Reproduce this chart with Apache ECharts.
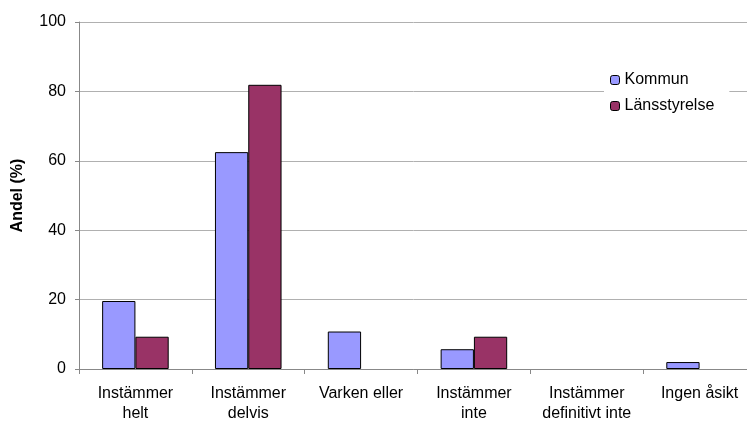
<!DOCTYPE html>
<html>
<head>
<meta charset="utf-8">
<script src="https://cdn.jsdelivr.net/npm/echarts@6/dist/echarts.min.js"></script>
<style>
  html, body { margin: 0; padding: 0; background: #fff; }
  #chart { width: 747px; height: 421px; }
</style>
</head>
<body>
<div id="chart"></div>
<script>
// Survey answers, share of respondents per group
const categories = ['Instämmer\nhelt', 'Instämmer\ndelvis', 'Varken eller', 'Instämmer\ninte', 'Instämmer\ndefinitivt inte', 'Ingen åsikt'];
const kommun = [19.6, 62.5, 10.8, 5.7, 0, 2.0];
const lansstyrelse = [9.3, 81.9, 0, 9.3, 0, 0];
const yTicks = [0, 20, 40, 60, 80, 100];

const chart = echarts.init(document.getElementById('chart'));
const font = 'Liberation Sans, Arial, sans-serif';

// zero-height bars get no outline so they leave no mark on the baseline
const asBars = arr => arr.map(v => v === 0 ? { value: v, itemStyle: { borderWidth: 0, opacity: 0 } } : v);

chart.setOption({
  animation: false,
  textStyle: { fontFamily: font },
  grid: { left: 79, right: -9, top: 22, bottom: 52, containLabel: false, outerBoundsMode: 'none' },
  legend: {
    orient: 'vertical',
    left: 604,
    top: 68,
    itemWidth: 9,
    itemHeight: 9,
    itemGap: 10,
    itemTextGap: 4,
    backgroundColor: '#fff',
    padding: [4, 15, 3, 6],
    textStyle: { fontFamily: font, fontSize: 16, color: '#000' },
    data: [
      { name: 'Kommun', itemStyle: { borderColor: '#000', borderWidth: 1 } },
      { name: 'Länsstyrelse', itemStyle: { borderColor: '#000', borderWidth: 1 } }
    ]
  },
  xAxis: {
    type: 'category',
    data: categories,
    axisLine: { lineStyle: { color: '#888', width: 1 } },
    axisTick: { show: true, length: 5, lineStyle: { color: '#888' } },
    axisLabel: { color: '#000', fontSize: 16, fontFamily: font, lineHeight: 20, margin: 15, interval: 0 }
  },
  yAxis: {
    type: 'value',
    min: yTicks[0],
    max: yTicks[yTicks.length - 1],
    interval: 20,
    name: 'Andel (%)',
    nameLocation: 'middle',
    nameGap: 53,
    nameTextStyle: { fontWeight: 'bold', fontSize: 16, color: '#000', fontFamily: font },
    axisLine: { show: true, lineStyle: { color: '#888', width: 1 } },
    axisTick: { show: true, length: 4, lineStyle: { color: '#888' } },
    axisLabel: { color: '#000', fontSize: 16, fontFamily: font, margin: 13 },
    splitLine: { lineStyle: { color: '#b0b0b0', width: 1 } }
  },
  series: [
    {
      name: 'Kommun',
      type: 'bar',
      data: asBars(kommun),
      barGap: '0%',
      barCategoryGap: '41%',
      itemStyle: { color: '#9999FF', borderColor: '#000', borderWidth: 1 }
    },
    {
      name: 'Länsstyrelse',
      type: 'bar',
      data: asBars(lansstyrelse),
      itemStyle: { color: '#993366', borderColor: '#000', borderWidth: 1 }
    }
  ]
});
</script>
</body>
</html>
